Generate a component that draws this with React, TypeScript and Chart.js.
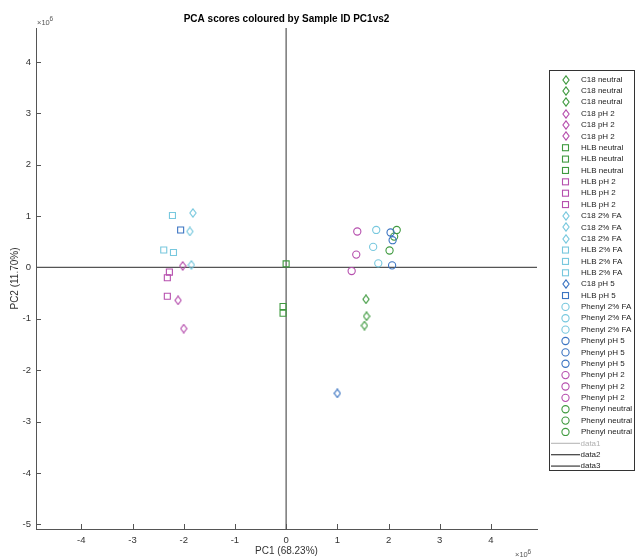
import { useEffect, useRef } from "react";
import { Chart, registerables } from "chart.js";

Chart.register(...registerables);

const TITLE = "PCA scores coloured by Sample ID PC1vs2";
const X_LABEL = "PC1 (68.23%)";
const Y_LABEL = "PC2 (11.70%)";
const EXP_LABEL = "6";
const SCALE = 1e6;

const xTickValues = [-4, -3, -2, -1, 0, 1, 2, 3, 4];
const yTickValues = [-5, -4, -3, -2, -1, 0, 1, 2, 3, 4];
const xRange = [-4.885, 4.9];
const yRange = [-5.09, 4.66];

// one entry per sample (each is its own legend entry), values in units of 10^6
const sampleIds = [
  "C18 neutral", "C18 neutral", "C18 neutral",
  "C18 pH 2", "C18 pH 2", "C18 pH 2",
  "HLB neutral", "HLB neutral", "HLB neutral",
  "HLB pH 2", "HLB pH 2", "HLB pH 2",
  "C18 2% FA", "C18 2% FA", "C18 2% FA",
  "HLB 2% FA", "HLB 2% FA", "HLB 2% FA",
  "C18 pH 5",
  "HLB pH 5",
  "Phenyl 2% FA", "Phenyl 2% FA", "Phenyl 2% FA",
  "Phenyl pH 5", "Phenyl pH 5", "Phenyl pH 5",
  "Phenyl pH 2", "Phenyl pH 2", "Phenyl pH 2",
  "Phenyl neutral", "Phenyl neutral", "Phenyl neutral",
];
const pc1 = [
  1.56, 1.57, 1.53,
  -2.02, -2.11, -2.0,
  0.0, -0.06, -0.06,
  -2.28, -2.32, -2.32,
  -1.82, -1.88, -1.85,
  -2.22, -2.39, -2.2,
  1.0,
  -2.06,
  1.76, 1.7, 1.8,
  2.04, 2.08, 2.07,
  1.39, 1.37, 1.28,
  2.16, 2.11, 2.02,
];
const pc2 = [
  -0.62, -0.95, -1.13,
  0.03, -0.64, -1.19,
  0.07, -0.76, -0.89,
  -0.09, -0.2, -0.56,
  1.06, 0.7, 0.05,
  1.01, 0.34, 0.29,
  -2.45,
  0.73,
  0.73, 0.4, 0.08,
  0.68, 0.53, 0.04,
  0.7, 0.25, -0.07,
  0.73, 0.6, 0.33,
];
const lineNames = ["data1", "data2", "data3"];

// styles
const GREEN = "#3f9a3f";
const MAGENTA = "#b64fae";
const CYAN = "#78c8de";
const BLUE = "#3b74c2";
const styleFor = (name: string) => {
  const shape = name.startsWith("Phenyl") ? "circle" : name.startsWith("HLB") ? "square" : "diamond";
  const color = name.includes("neutral")
    ? GREEN
    : name.includes("pH 2")
    ? MAGENTA
    : name.includes("FA")
    ? CYAN
    : BLUE;
  return { shape, color };
};
const lineColors = ["#bdbdbd", "#3a3a3a", "#3a3a3a"];

const FONT = "'Liberation Sans', Arial, Helvetica, sans-serif";

const diamondCache: Record<string, HTMLCanvasElement> = {};
function diamond(color: string) {
  if (diamondCache[color]) return diamondCache[color];
  const c = document.createElement("canvas");
  c.width = 8;
  c.height = 10;
  const g = c.getContext("2d")!;
  g.strokeStyle = color;
  g.lineWidth = 1.1;
  g.beginPath();
  g.moveTo(4, 0.8);
  g.lineTo(7.1, 5);
  g.lineTo(4, 9.2);
  g.lineTo(0.9, 5);
  g.closePath();
  g.stroke();
  diamondCache[color] = c;
  return c;
}

function drawMarker(ctx: CanvasRenderingContext2D, shape: string, color: string, x: number, y: number) {
  ctx.save();
  ctx.strokeStyle = color;
  ctx.lineWidth = 1.1;
  if (shape === "diamond") {
    const img = diamond(color);
    ctx.drawImage(img, Math.round(x - img.width / 2), Math.round(y - img.height / 2));
  } else if (shape === "square") {
    ctx.strokeRect(x - 3, y - 3, 6, 6);
  } else {
    ctx.beginPath();
    ctx.arc(x, y, 3.6, 0, Math.PI * 2);
    ctx.stroke();
  }
  ctx.restore();
}

const decorPlugin = {
  id: "decor",
  afterDraw(chart: any) {
    const { ctx, chartArea: a, scales } = chart;
    const xs = scales.x;
    const ys = scales.y;
    ctx.save();
    // inward tick marks
    ctx.strokeStyle = "#555";
    ctx.lineWidth = 1;
    ctx.beginPath();
    xs.ticks.forEach((t: any) => {
      const px = Math.round(xs.getPixelForValue(t.value)) + 0.5;
      ctx.moveTo(px, a.bottom);
      ctx.lineTo(px, a.bottom - 5);
    });
    ys.ticks.forEach((t: any) => {
      const py = Math.round(ys.getPixelForValue(t.value)) + 0.5;
      ctx.moveTo(a.left, py);
      ctx.lineTo(a.left + 5, py);
    });
    ctx.stroke();

    // title
    ctx.fillStyle = "#000";
    ctx.font = `bold 10px ${FONT}`;
    ctx.textAlign = "center";
    ctx.textBaseline = "middle";
    ctx.fillText(TITLE, (a.left + a.right) / 2, 19);

    // axis titles
    ctx.fillStyle = "#333";
    ctx.font = `10px ${FONT}`;
    ctx.fillText(X_LABEL, (a.left + a.right) / 2, 551);
    ctx.save();
    ctx.translate(15, (a.top + a.bottom) / 2);
    ctx.rotate(-Math.PI / 2);
    ctx.fillText(Y_LABEL, 0, 0);
    ctx.restore();

    // exponent labels
    ctx.fillStyle = "#555";
    ctx.textAlign = "left";
    ctx.textBaseline = "alphabetic";
    ctx.font = `7.5px ${FONT}`;
    ctx.fillText("\u00d710", a.left + 1, 24.5);
    ctx.fillText("\u00d710", 515, 557);
    ctx.font = `6.5px ${FONT}`;
    ctx.fillText(EXP_LABEL, a.left + 13.5, 21);
    ctx.fillText(EXP_LABEL, 527.5, 553.5);

    // legend
    const ds = chart.data.datasets;
    const boxL = 549.5;
    const boxT = 70.5;
    const rowH = 11.37;
    ctx.fillStyle = "#fff";
    ctx.fillRect(boxL, boxT, 85, 400);
    ctx.strokeStyle = "#333";
    ctx.lineWidth = 1;
    ctx.strokeRect(boxL, boxT, 85, 400);
    ctx.font = `8px ${FONT}`;
    ctx.textBaseline = "middle";
    ds.forEach((d: any, i: number) => {
      const yy = 79.5 + i * rowH;
      if (d.showLine) {
        ctx.strokeStyle = lineColors[lineNames.indexOf(d.label)];
        ctx.lineWidth = 1.2;
        ctx.beginPath();
        ctx.moveTo(551, yy);
        ctx.lineTo(580, yy);
        ctx.stroke();
        ctx.fillStyle = d.label === "data1" ? "#b0b0b0" : "#222";
        ctx.fillText(d.label, 580.5, yy);
      } else {
        const st = styleFor(d.label);
        drawMarker(ctx, st.shape, st.color, 565.5, yy);
        ctx.fillStyle = "#222";
        ctx.fillText(d.label, 581, yy);
      }
    });
    ctx.restore();
  },
};

export default function App() {
  const ref = useRef<HTMLCanvasElement | null>(null);
  useEffect(() => {
    document.body.style.margin = "0";
    const canvas = ref.current!;
    const pointSets = sampleIds.map((name, i) => {
      const st = styleFor(name);
      return {
        label: name,
        data: [{ x: pc1[i] * SCALE, y: pc2[i] * SCALE }],
        pointStyle: st.shape === "diamond" ? diamond(st.color) : st.shape === "square" ? "rect" : "circle",
        pointRadius: st.shape === "square" ? 4.25 : 3.6,
        pointBorderColor: st.color,
        pointBackgroundColor: "rgba(0,0,0,0)",
        pointBorderWidth: 1.1,
        borderColor: st.color,
        showLine: false,
      };
    });
    const lineData = [
      [],
      [
        { x: xRange[0] * SCALE, y: 0 },
        { x: xRange[1] * SCALE, y: 0 },
      ],
      [
        { x: 0, y: yRange[0] * SCALE },
        { x: 0, y: yRange[1] * SCALE },
      ],
    ];
    const lineSets = lineNames.map((name, i) => ({
      label: name,
      data: lineData[i],
      showLine: true,
      pointRadius: 0,
      borderColor: i === 0 ? lineColors[0] : "#555",
      borderWidth: 1.2,
      fill: false,
    }));
    const tickFont = { family: FONT, size: 9.5 };
    const chart = new Chart(canvas, {
      type: "scatter",
      data: { datasets: [...pointSets, ...lineSets] as any },
      options: {
        animation: false,
        responsive: false,
        events: [],
        layout: { padding: { left: 0, right: 98, top: 28, bottom: 0 } },
        plugins: { legend: { display: false }, tooltip: { enabled: false }, title: { display: false } },
        scales: {
          x: {
            type: "linear",
            min: xRange[0] * SCALE,
            max: xRange[1] * SCALE,
            grid: { display: false, drawTicks: false },
            border: { display: true, color: "#555", width: 1 },
            afterBuildTicks: (s: any) => {
              s.ticks = xTickValues.map((v) => ({ value: v * SCALE }));
            },
            afterFit: (s: any) => {
              s.height = 29;
            },
            ticks: {
              color: "#333",
              font: tickFont,
              padding: 6,
              maxRotation: 0,
              autoSkip: false,
              callback: (v: any) => String(Math.round((v as number) / SCALE)),
            },
          },
          y: {
            type: "linear",
            min: yRange[0] * SCALE,
            max: yRange[1] * SCALE,
            grid: { display: false, drawTicks: false },
            border: { display: true, color: "#555", width: 1 },
            afterBuildTicks: (s: any) => {
              s.ticks = yTickValues.map((v) => ({ value: v * SCALE }));
            },
            afterFit: (s: any) => {
              s.width = 36;
            },
            ticks: {
              color: "#333",
              font: tickFont,
              padding: 5,
              autoSkip: false,
              callback: (v: any) => String(Math.round((v as number) / SCALE)),
            },
          },
        },
      },
      plugins: [decorPlugin],
    });
    return () => chart.destroy();
  }, []);
  return (
    <div style={{ width: 635, height: 558, background: "#fff" }}>
      <canvas ref={ref} width={635} height={558} style={{ display: "block" }} />
    </div>
  );
}
